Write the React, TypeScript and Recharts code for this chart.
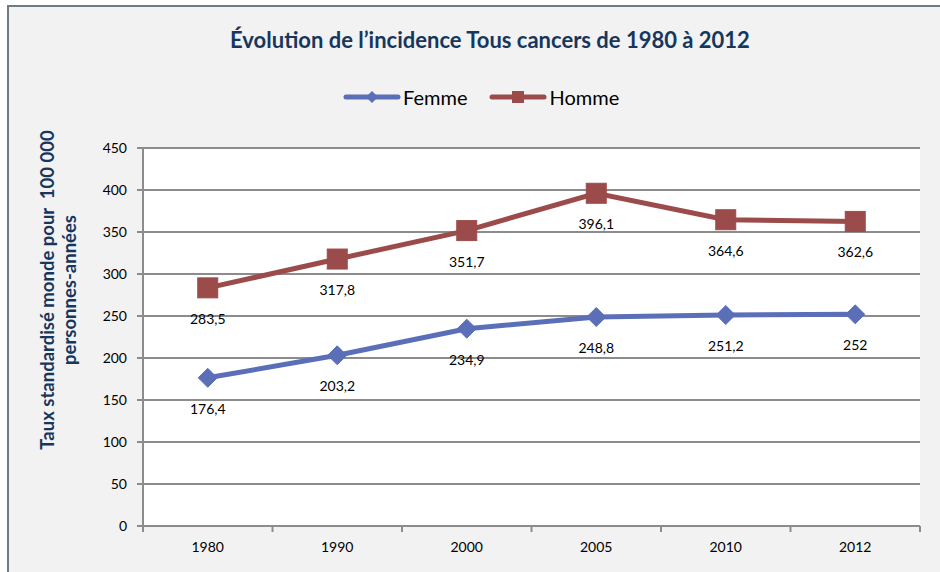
import React from "react";
import { LineChart, Line, XAxis, YAxis, CartesianGrid, LabelList, Label } from "recharts";

const years = ["1980", "1990", "2000", "2005", "2010", "2012"];
const femme = [176.4, 203.2, 234.9, 248.8, 251.2, 252];
const homme = [283.5, 317.8, 351.7, 396.1, 364.6, 362.6];
const yTicks = [0, 50, 100, 150, 200, 250, 300, 350, 400, 450];
const femmeLabels = ["176,4", "203,2", "234,9", "248,8", "251,2", "252"];
const hommeLabels = ["283,5", "317,8", "351,7", "396,1", "364,6", "362,6"];

const data = years.map((y, i) => ({
  year: y,
  femme: femme[i],
  homme: homme[i],
  fl: femmeLabels[i],
  hl: hommeLabels[i],
}));

const FONT = "Lato, 'Open Sans', sans-serif";
const BLUE = "#5b6fb8";
const RED = "#9c4b4b";
const NAVY = "#17365d";
const GRID = "#8c8c8c";

const W = 940;
const H = 572;
const M = { top: 148, right: 20, bottom: 16, left: 0 };
const YW = 143;
const XH = 30;
const BAND = (W - M.right - YW) / years.length;

const Diamond = (props: any) => {
  const { cx, cy, key } = props;
  if (cx == null || cy == null) return null;
  const r = 9.5;
  return (
    <polygon
      key={key}
      points={`${cx},${cy - r} ${cx + r},${cy} ${cx},${cy + r} ${cx - r},${cy}`}
      fill={BLUE}
      stroke={BLUE}
    />
  );
};

const Square = (props: any) => {
  const { cx, cy, key } = props;
  if (cx == null || cy == null) return null;
  const s = 20;
  return <rect key={key} x={cx - s / 2} y={cy - s / 2} width={s} height={s} fill={RED} stroke={RED} strokeWidth={1} />;
};

const XTick = (props: any) => {
  const { x, y, payload, index } = props;
  const left = x - BAND / 2;
  const right = x + BAND / 2;
  return (
    <g>
      <line x1={left} y1={y - 8} x2={left} y2={y - 2} stroke={GRID} strokeWidth={2} />
      {index === years.length - 1 && (
        <line x1={right} y1={y - 8} x2={right} y2={y - 2} stroke={GRID} strokeWidth={2} />
      )}
      <text x={x} y={y + 18} textAnchor="middle" fontSize={14} fontFamily={FONT} fill="#000">
        {payload.value}
      </text>
    </g>
  );
};

const YLabel = () => (
  <g>
    <text
      transform={`translate(47,290) rotate(-90)`}
      textAnchor="middle"
      dominantBaseline="central"
      fontSize={18.5}
      fontWeight="bold"
      fontFamily={FONT}
      fill={NAVY}
      style={{ whiteSpace: "pre" }}
    >
      {"Taux standardisé monde pour  100 000"}
    </text>
    <text
      transform={`translate(69,290) rotate(-90)`}
      textAnchor="middle"
      dominantBaseline="central"
      fontSize={18.5}
      fontWeight="bold"
      fontFamily={FONT}
      fill={NAVY}
    >
      personnes-années
    </text>
  </g>
);

const LegendItem = ({ color, label, marker }: { color: string; label: string; marker: "d" | "s" }) => (
  <div style={{ display: "flex", alignItems: "center", marginRight: 22 }}>
    <svg width={58} height={14}>
      <line x1={3} y1={7} x2={55} y2={7} stroke={color} strokeWidth={5} strokeLinecap="round" />
      {marker === "d" ? (
        <polygon points="29,1 35,7 29,13 23,7" fill={color} />
      ) : (
        <rect x={23} y={1} width={12} height={12} fill={color} />
      )}
    </svg>
    <span style={{ fontFamily: FONT, fontSize: 20, color: "#000", marginLeft: 2, lineHeight: "24px" }}>{label}</span>
  </div>
);

export default function App() {
  return (
    <div style={{ position: "absolute", left: 0, top: 0, width: W, height: H, background: "#fff", overflow: "hidden" }}>
      <div
        style={{
          position: "absolute",
          left: 7,
          top: 5,
          width: W,
          height: H,
          background: "#f2f2f2",
          border: "2px solid #6f7c82",
          boxSizing: "border-box",
        }}
      />
      <div
        style={{
          position: "absolute",
          left: 0,
          top: 26,
          width: 980,
          textAlign: "center",
          fontFamily: FONT,
          fontWeight: "bold",
          fontSize: 22,
          color: NAVY,
          lineHeight: "28px",
        }}
      >
        Évolution de l’incidence Tous cancers de 1980 à 2012
      </div>
      <div style={{ position: "absolute", left: 343, top: 85, display: "flex" }}>
        <LegendItem color={BLUE} label="Femme" marker="d" />
        <LegendItem color={RED} label="Homme" marker="s" />
      </div>
      <div style={{ position: "absolute", left: 0, top: 0 }}>
        <LineChart width={W} height={H} data={data} margin={M}>
          <CartesianGrid vertical={false} stroke={GRID} strokeWidth={2} fill="#ffffff" fillOpacity={1} />
          <XAxis
            dataKey="year"
            scale="band"
            height={XH}
            axisLine={{ stroke: GRID, strokeWidth: 2 }}
            tickLine={false}
            tick={<XTick />}
            interval={0}
          />
          <YAxis
            width={YW}
            domain={[0, 450]}
            ticks={yTicks}
            interval={0}
            axisLine={{ stroke: GRID, strokeWidth: 2 }}
            tickLine={{ stroke: GRID, strokeWidth: 2 }}
            tickSize={6}
            tickMargin={10}
            tick={{ fontSize: 14, fontFamily: FONT, fill: "#000" }}
          >
            <Label content={<YLabel />} />
          </YAxis>
          <Line
            dataKey="femme"
            stroke={BLUE}
            strokeWidth={5}
            dot={<Diamond />}
            activeDot={false}
            isAnimationActive={false}
          >
            <LabelList dataKey="fl" position="bottom" offset={26} fontSize={14} fontFamily={FONT} fill="#000" />
          </Line>
          <Line
            dataKey="homme"
            stroke={RED}
            strokeWidth={5}
            dot={<Square />}
            activeDot={false}
            isAnimationActive={false}
          >
            <LabelList dataKey="hl" position="bottom" offset={26} fontSize={14} fontFamily={FONT} fill="#000" />
          </Line>
        </LineChart>
      </div>
    </div>
  );
}
